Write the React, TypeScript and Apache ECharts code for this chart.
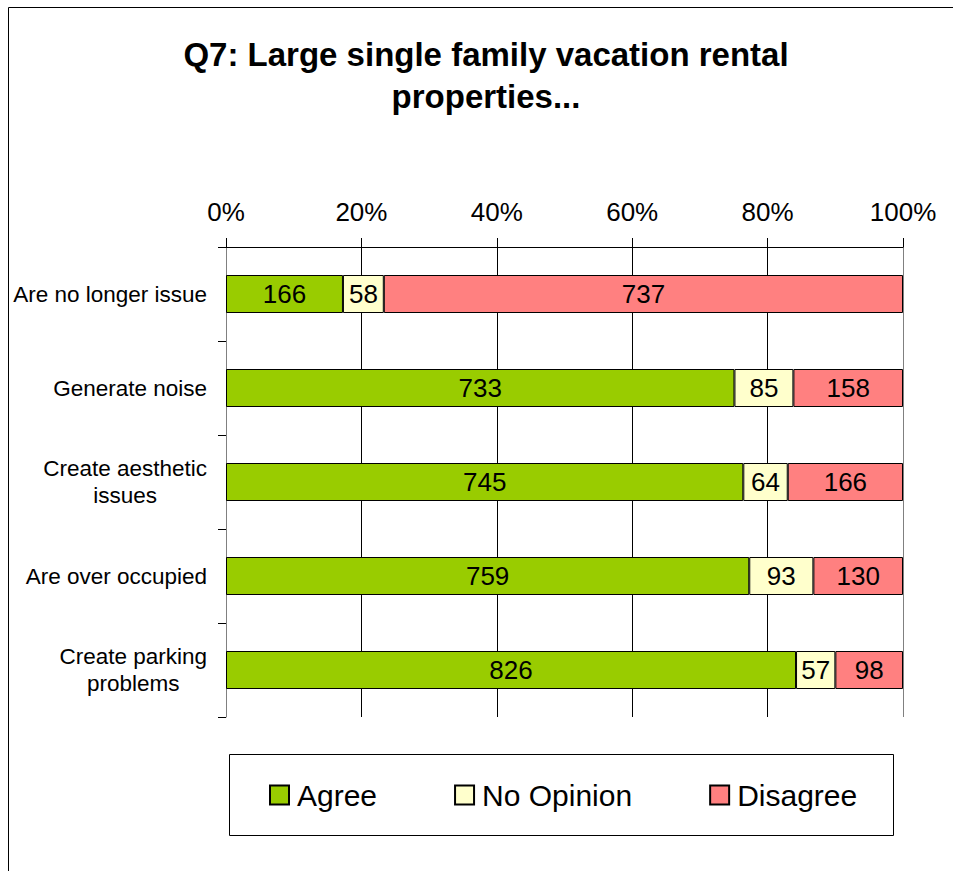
import React, { useEffect, useRef } from "react";
import * as echarts from "echarts";

const categories = [
  "Are no longer issue",
  "Generate noise",
  "Create aesthetic\nissues",
  "Are over occupied",
  "Create parking\nproblems",
];
const seriesNames = ["Agree", "No Opinion", "Disagree"];
const agree = [166, 733, 745, 759, 826];
const noOpinion = [58, 85, 64, 93, 57];
const disagree = [737, 158, 166, 130, 98];
const tickLabels = ["0%", "20%", "40%", "60%", "80%", "100%"];
const colors = ["#99CC00", "#FFFFCC", "#FF8080"];

const FONT = "'Liberation Sans', Arial, sans-serif";

export default function App() {
  const ref = useRef<HTMLDivElement>(null);
  useEffect(() => {
    if (!ref.current) return;
    const chart = echarts.init(ref.current, undefined, { renderer: "svg" });
    const counts = [agree, noOpinion, disagree];
    const totals = categories.map((_, i) => agree[i] + noOpinion[i] + disagree[i]);
    const series = counts.map((arr, si) => ({
      name: seriesNames[si],
      type: "bar",
      stack: "total",
      barWidth: 38,
      data: arr.map((v, i) => (v / totals[i]) * 100),
      itemStyle: { color: colors[si], borderColor: "#000", borderWidth: 1 },
      label: {
        show: true,
        position: "inside",
        fontSize: 26,
        color: "#000",
        fontFamily: FONT,
        formatter: (p: any) => String(counts[si][p.dataIndex]),
      },
    }));
    chart.setOption({
      animation: false,
      backgroundColor: "#fff",
      textStyle: { fontFamily: FONT },
      graphic: [
        {
          type: "polyline",
          shape: { points: [[8.5, 871], [8.5, 7.5], [953, 7.5]] },
          style: { stroke: "#000", lineWidth: 1, fill: null },
          silent: true,
        },
        {
          type: "rect",
          shape: { x: 229.5, y: 754.5, width: 664, height: 81 },
          style: { stroke: "#000", lineWidth: 1, fill: "#fff" },
          z: -1,
          silent: true,
        },
        {
          type: "text",
          x: 486,
          y: 33,
          style: {
            text: "Q7: Large single family vacation rental\nproperties...",
            fontSize: 33,
            fontWeight: "bold",
            fontFamily: FONT,
            lineHeight: 42,
            align: "center",
            fill: "#000",
          },
        },
      ],
      legend: {
        data: seriesNames,
        left: 269,
        top: 780,
        padding: 0,
        itemWidth: 19,
        itemHeight: 19,
        itemGap: 77,
        icon: "rect",
        textStyle: { fontSize: 30, color: "#000", fontFamily: FONT, padding: [0, 0, 0, 3] },
      },
      grid: { left: 226, right: 50, top: 247, bottom: 154, containLabel: false },
      xAxis: {
        type: "value",
        position: "top",
        min: 0,
        max: 100,
        interval: 20,
        axisLine: { show: true, lineStyle: { color: "#000", width: 1 } },
        axisTick: { show: true, length: 9, lineStyle: { color: "#000" } },
        splitLine: {
          show: true,
          lineStyle: { color: ["#808080", "#000", "#000", "#000", "#000", "#808080"], width: 1 },
        },
        axisLabel: {
          fontSize: 26,
          color: "#000",
          margin: 22,
          formatter: (v: number) => tickLabels[Math.round(v / 20)],
        },
      },
      yAxis: {
        type: "category",
        inverse: true,
        data: categories,
        axisLine: { show: true, lineStyle: { color: "#808080", width: 1 } },
        axisTick: { show: true, length: 8, lineStyle: { color: "#000" } },
        axisLabel: {
          fontSize: 22.5,
          color: "#000",
          margin: 19,
          lineHeight: 27,
          formatter: (v: string) =>
            v
              .split("\n")
              .map((l) => `{c|${l}}`)
              .join("\n"),
          rich: {
            c: { align: "center", fontSize: 22.5, lineHeight: 27, color: "#000", fontFamily: FONT },
          },
        },
      },
      series,
    });
    return () => chart.dispose();
  }, []);
  return (
    <div
      ref={ref}
      style={{ position: "absolute", left: 0, top: 0, width: 953, height: 871 }}
    />
  );
}
